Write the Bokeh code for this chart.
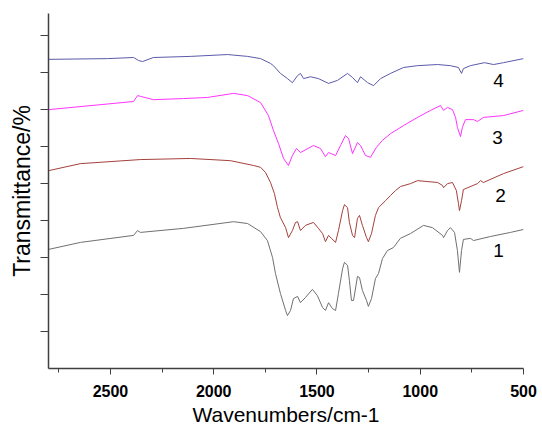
from bokeh.plotting import figure
from bokeh.models import Range1d, FixedTicker
from bokeh.core.properties import value
from bokeh.embed import file_html
from bokeh.resources import INLINE

# ---- data (wavenumber cm-1, transmittance, arbitrary offset units) ----
wn1 = [2800, 2645, 2388, 2369, 2355, 2146, 1904, 1836, 1773, 1740, 1715, 1701, 1677, 1652, 1643, 1628,
       1614, 1594, 1580, 1556, 1522, 1498, 1473, 1459, 1444, 1425, 1410, 1396, 1376, 1367, 1352, 1343,
       1333, 1323, 1304, 1294, 1280, 1260, 1251, 1236, 1217, 1202, 1183, 1159, 1130, 1096, 1047, 984,
       941, 892, 887, 868, 854, 834, 820, 810, 800, 791, 757, 742, 660, 563, 500]
t1 = [32.2, 34.1, 36.0, 37.3, 36.8, 37.9, 39.7, 39.2, 37.0, 34.6, 30.0, 25.7, 20.3, 15.7, 14.3, 15.7,
      18.9, 19.5, 17.8, 19.2, 21.4, 19.7, 16.5, 15.7, 17.8, 16.2, 15.7, 20.3, 27.0, 28.7, 27.9, 23.8,
      18.4, 18.4, 24.9, 24.6, 21.1, 18.4, 16.8, 18.9, 24.3, 25.7, 29.7, 31.9, 32.7, 35.2, 36.5, 38.7,
      38.1, 36.0, 35.4, 37.3, 38.1, 36.8, 31.9, 26.0, 31.9, 34.9, 35.2, 34.6, 35.7, 36.8, 37.6]

wn2 = [2800, 2645, 2355, 2112, 1919, 1807, 1773, 1749, 1725, 1706, 1691, 1677, 1652, 1638, 1619, 1604,
       1594, 1580, 1556, 1517, 1493, 1473, 1459, 1444, 1430, 1410, 1396, 1376, 1367, 1352, 1343, 1328,
       1318, 1304, 1294, 1280, 1260, 1251, 1236, 1217, 1202, 1168, 1144, 1120, 1096, 1047, 1013, 916,
       892, 887, 868, 844, 825, 815, 810, 800, 791, 723, 708, 694, 597, 500]
t2 = [53.5, 55.4, 56.5, 56.8, 56.2, 54.9, 54.4, 53.0, 50.3, 47.3, 43.5, 40.8, 38.1, 35.4, 37.3, 39.5,
      39.7, 37.3, 38.7, 39.5, 37.9, 36.5, 34.3, 36.0, 35.2, 34.1, 37.3, 42.7, 44.3, 43.5, 39.5, 36.0,
      35.4, 40.6, 41.4, 38.7, 35.4, 34.3, 36.5, 41.4, 43.5, 45.4, 46.8, 48.1, 49.2, 50.0, 50.8, 50.3,
      49.5, 48.9, 50.0, 50.3, 48.1, 44.6, 42.7, 45.4, 48.4, 50.0, 50.8, 50.3, 52.7, 54.6]

wn3 = [2800, 2388, 2369, 2355, 2292, 2146, 2030, 1904, 1836, 1773, 1735, 1711, 1686, 1662, 1638, 1619,
       1599, 1580, 1517, 1483, 1459, 1444, 1410, 1386, 1362, 1347, 1328, 1304, 1289, 1265, 1241, 1212,
       1183, 1144, 1081, 1013, 950, 902, 887, 868, 844, 829, 820, 805, 796, 781, 742, 723, 694, 597, 500]
t3 = [70.0, 72.2, 73.8, 73.6, 72.7, 73.0, 73.3, 74.4, 73.8, 71.9, 68.4, 64.4, 60.8, 56.8, 54.9, 57.6,
      59.5, 58.4, 60.3, 59.5, 57.3, 58.4, 57.6, 60.3, 63.0, 62.2, 58.1, 61.1, 60.3, 57.6, 57.1, 59.8,
      61.7, 63.5, 65.7, 67.9, 69.8, 71.1, 69.8, 70.6, 70.0, 67.9, 65.2, 62.7, 65.2, 67.3, 67.3, 66.8,
      67.9, 68.4, 69.8]

wn4 = [2800, 2514, 2388, 2364, 2345, 2292, 2112, 1933, 1836, 1773, 1725, 1711, 1677, 1643, 1619, 1594,
       1580, 1565, 1531, 1493, 1444, 1401, 1352, 1328, 1304, 1289, 1255, 1226, 1192, 1144, 1081, 1013,
       916, 854, 815, 800, 791, 757, 689, 645, 597, 500]
t4 = [83.6, 83.8, 84.1, 83.3, 83.0, 84.1, 84.4, 84.9, 84.4, 83.8, 82.5, 81.9, 79.8, 78.4, 77.3, 79.2,
      79.8, 78.4, 78.9, 78.4, 77.1, 77.9, 79.8, 78.7, 77.3, 78.9, 77.3, 76.5, 78.4, 79.8, 81.4, 81.9,
      82.2, 81.9, 81.4, 79.8, 81.1, 81.9, 82.7, 82.2, 82.7, 83.8]

curve_labels = ["1", "2", "3", "4"]
label_wn = [621, 611, 626, 621]
label_t = [31.9, 46.8, 62.5, 77.9]

x_major = [2500, 2000, 1500, 1000, 500]
x_minor = [2750, 2250, 1750, 1250, 750]
y_ticks = [10, 20, 30, 40, 50, 60, 70, 80, 90]

colors = ["#707070", "#a3403c", "#ff33ff", "#5a5aaa"]
FONT = "Liberation Sans"

p = figure(width=540, height=428, output_backend="svg", toolbar_location=None,
           x_range=Range1d(2800, 500), y_range=Range1d(0, 96),
           min_border_left=48, min_border_right=17, min_border_top=13, min_border_bottom=60)
p.outline_line_color = None
p.xgrid.grid_line_color = None
p.ygrid.grid_line_color = None
p.background_fill_color = "white"

for wn, t, c in zip([wn1, wn2, wn3, wn4], [t1, t2, t3, t4], colors):
    p.line(wn, t, line_color=c, line_width=1)

p.text(x=label_wn, y=label_t, text=curve_labels, text_font=value(FONT),
       text_font_size="19px", text_color="black", text_align="center", text_baseline="middle")

# x axis
p.xaxis.ticker = FixedTicker(ticks=x_major, minor_ticks=x_minor)
p.xaxis.axis_label = "Wavenumbers/cm-1"
p.xaxis.axis_label_text_font = FONT
p.xaxis.axis_label_text_font_style = "normal"
p.xaxis.axis_label_text_font_size = "21px"
p.xaxis.axis_label_text_color = "black"
p.xaxis.axis_label_standoff = 3
p.xaxis.major_label_text_font = FONT
p.xaxis.major_label_text_font_style = "bold"
p.xaxis.major_label_text_font_size = "16px"
p.xaxis.major_label_text_color = "black"
p.xaxis.major_label_standoff = 10
p.xaxis.major_tick_in = 0
p.xaxis.major_tick_out = 6
p.xaxis.minor_tick_in = 0
p.xaxis.minor_tick_out = 4

# y axis
p.yaxis.ticker = FixedTicker(ticks=y_ticks, minor_ticks=[])
p.yaxis.major_label_overrides = {v: "" for v in y_ticks}
p.yaxis.major_label_text_font_size = "0px"
p.yaxis.major_label_standoff = 0
p.yaxis.axis_label = "Transmittance/%"
p.yaxis.axis_label_text_font = FONT
p.yaxis.axis_label_text_font_style = "normal"
p.yaxis.axis_label_text_font_size = "23px"
p.yaxis.axis_label_text_color = "black"
p.yaxis.axis_label_standoff = 6
p.yaxis.major_tick_in = 0
p.yaxis.major_tick_out = 8

for ax in (p.xaxis, p.yaxis):
    ax.axis_line_color = "#404040"
    ax.axis_line_width = 1.5
    ax.major_tick_line_color = "#404040"
    ax.minor_tick_line_color = "#404040"

open("out.html", "w").write(file_html(p, INLINE))
